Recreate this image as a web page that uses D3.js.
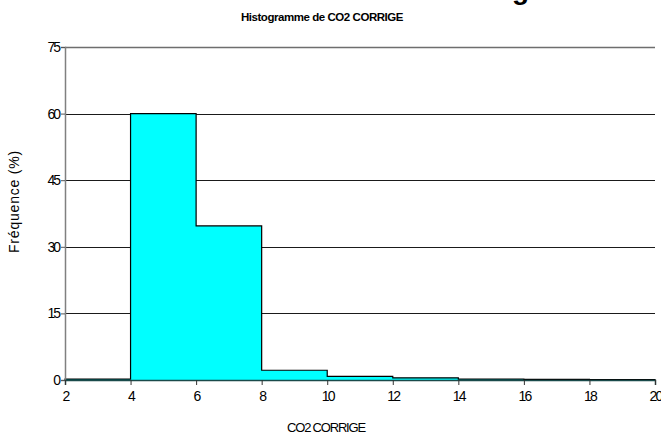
<!DOCTYPE html>
<html>
<head>
<meta charset="utf-8">
<script src="https://cdn.jsdelivr.net/npm/d3@7"></script>
<style>
  html, body { margin: 0; padding: 0; background: #fff; }
  svg { display: block; }
  text { font-family: "Liberation Sans", Arial, sans-serif; fill: #000; }
</style>
</head>
<body>
<svg id="chart" width="661" height="434"></svg>
<script>
// Histogram bins (class edges) and relative frequency (%) of each bin
const binEdges = [2, 4, 6, 8, 10, 12, 14, 16, 18, 20];
const frequencies = [0.2, 60, 34.7, 2.2, 0.8, 0.5, 0.2, 0.15, 0.1];
const yTicks = [0, 15, 30, 45, 60, 75];
const xTicks = [2, 4, 6, 8, 10, 12, 14, 16, 18, 20];

const bins = frequencies.map((v, i) => ({ x0: binEdges[i], x1: binEdges[i + 1], value: v }));

const svg = d3.select("#chart");
const margin = { left: 65, right: 6, top: 47, bottom: 54 };
const W = 661, H = 434;

const x = d3.scaleLinear().domain([2, 20]).range([margin.left, W - margin.right]);
const y = d3.scaleLinear().domain([0, 75]).range([H - margin.bottom, margin.top]);

// Large title, mostly above the visible area
svg.append("text")
  .attr("x", 442).attr("y", -1.5)
  .style("font-size", "28px").style("font-weight", "bold")
  .text("Histogramme");

// Small title
svg.append("text")
  .attr("x", 322).attr("y", 21)
  .attr("text-anchor", "middle")
  .style("font-size", "11.5px").style("font-weight", "bold")
  .style("letter-spacing", "-0.45px")
  .text("Histogramme de CO2 CORRIGE");

// Horizontal gridlines
svg.append("g").selectAll("line")
  .data(yTicks.filter(d => d > 0))
  .join("line")
  .attr("x1", x(2)).attr("x2", x(20))
  .attr("y1", d => Math.round(y(d)) + 0.5).attr("y2", d => Math.round(y(d)) + 0.5)
  .attr("stroke", d => d === 75 ? "#6e6e6e" : "#1a1a1a")
  .attr("stroke-width", d => d === 75 ? 1.5 : 1);

// Histogram as one stepped silhouette: points at every bin edge
const stepPts = [];
bins.forEach(b => { stepPts.push([b.x0, b.value]); stepPts.push([b.x1, b.value]); });

const area = d3.area()
  .x(d => x(d[0]))
  .y0(y(0))
  .y1(d => y(d[1]));
svg.append("path")
  .datum(stepPts)
  .attr("d", area)
  .attr("fill", "#00ffff");

// Outline: start and end on the baseline, step along bin tops
const outlinePts = [[binEdges[0], 0], ...stepPts, [binEdges[binEdges.length - 1], 0]];
const outline = d3.line().x(d => x(d[0])).y(d => y(d[1]));
svg.append("path")
  .datum(outlinePts)
  .attr("d", outline)
  .attr("fill", "none")
  .attr("stroke", "#000")
  .attr("stroke-width", 1.2);

// Y axis
const yAxis = d3.axisLeft(y).tickValues(yTicks).tickSize(4).tickPadding(2);
const gy = svg.append("g").attr("transform", `translate(${margin.left},0)`).call(yAxis);
gy.select(".domain").attr("stroke", "#808080").attr("stroke-width", 1.5);
gy.selectAll(".tick line").attr("stroke", "#555");
gy.selectAll(".tick text")
  .style("font-size", "14px").style("letter-spacing", "-2px")
  .style("font-family", "'Liberation Sans', Arial, sans-serif").attr("fill", "#000");

// X axis
const xAxis = d3.axisBottom(x).tickValues(xTicks).tickSize(5).tickPadding(6).tickFormat(d3.format("d"));
const gx = svg.append("g").attr("transform", `translate(0,${y(0)})`).call(xAxis);
gx.select(".domain").attr("stroke", "#1a4a4a").attr("stroke-width", 1.5);
gx.selectAll(".tick line").attr("stroke", "#333");
gx.selectAll(".tick text")
  .style("font-size", "14px").style("letter-spacing", "-1.8px")
  .style("font-family", "'Liberation Sans', Arial, sans-serif").attr("fill", "#000");

// Axis titles
svg.append("text")
  .attr("x", 326).attr("y", 432)
  .attr("text-anchor", "middle")
  .style("font-size", "13px").style("letter-spacing", "-1.2px")
  .text("CO2 CORRIGE");

svg.append("text")
  .attr("transform", `translate(19,201.5) rotate(-90)`)
  .attr("text-anchor", "middle")
  .style("font-size", "14px").style("letter-spacing", "0.8px")
  .text("Fréquence (%)");
</script>
</body>
</html>
